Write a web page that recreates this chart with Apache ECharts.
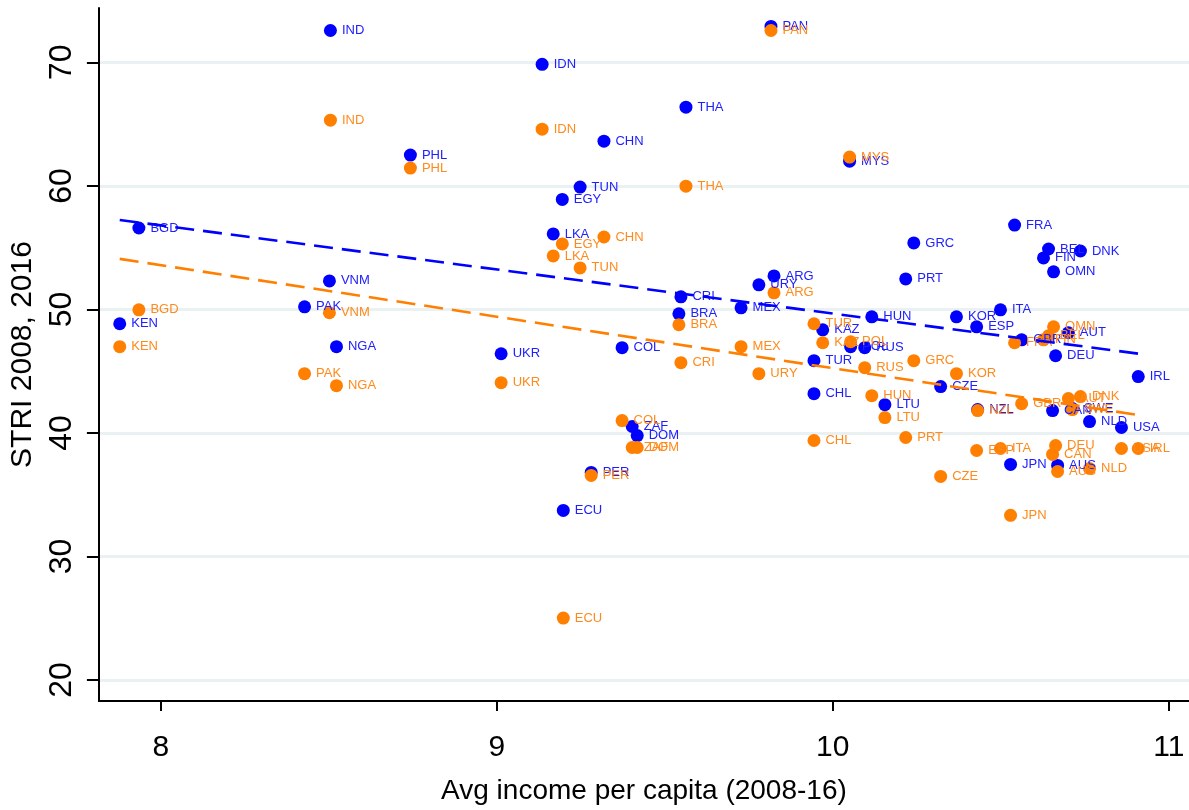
<!DOCTYPE html>
<html>
<head>
  <meta charset="utf-8">
  <title>STRI vs income</title>
  <style>
    html, body { margin: 0; padding: 0; background: #fff; }
  </style>
</head>
<body>
  <div id="main" style="width: 1189px;height:810px;"></div>
</body>
<script src="https://cdn.jsdelivr.net/npm/echarts@6/dist/echarts.min.js"></script>
<script>
let myChart = echarts.init(document.querySelector('#main'))

// country codes, avg income (x), STRI 2008 (blue) and STRI 2016 (orange)
const countries = ['KEN','BGD','PAK','IND','VNM','NGA','PHL','UKR','IDN','LKA','EGY','TUN','ECU','PER','CHN','COL','ZAF','DOM','THA','CRI','BRA','MEX','URY','ARG','PAN','TUR','CHL','KAZ','POL','MYS','RUS','HUN','LTU','PRT','GRC','CZE','KOR','ESP','NZL','ITA','JPN','FRA','GBR','FIN','BEL','OMN','CAN','DEU','AUS','AUT','SWE','DNK','NLD','USA','IRL'];
const income = [7.878,7.935,8.428,8.505,8.502,8.523,8.743,9.013,9.135,9.168,9.195,9.248,9.198,9.281,9.319,9.373,9.403,9.418,9.563,9.548,9.542,9.727,9.780,9.825,9.816,9.944,9.944,9.970,10.053,10.050,10.095,10.116,10.155,10.217,10.241,10.321,10.368,10.428,10.431,10.499,10.529,10.541,10.562,10.627,10.642,10.657,10.654,10.663,10.669,10.701,10.713,10.737,10.764,10.859,10.909];
const stri2008 = [48.84,56.59,50.21,72.58,52.31,46.98,62.49,46.41,69.84,56.11,58.90,59.90,33.73,36.80,63.62,46.90,40.52,39.79,66.37,51.02,49.64,50.13,51.99,52.71,72.91,45.85,43.18,48.35,46.98,62.00,46.90,49.40,42.29,52.47,55.38,43.75,49.40,48.59,41.89,49.97,37.45,56.83,47.54,54.17,54.89,53.04,41.81,46.25,37.37,48.11,41.97,54.73,40.92,40.44,44.56];
const stri2016 = [46.98,49.97,44.80,65.32,49.73,43.83,61.44,44.07,64.59,54.33,55.30,53.36,25.01,36.56,55.86,41.00,38.82,38.82,59.98,45.69,48.76,46.98,44.80,51.34,72.58,48.84,39.39,47.30,47.38,62.33,45.28,43.02,41.24,39.63,45.85,36.48,44.80,38.58,41.81,38.74,33.33,47.30,42.37,47.54,47.87,48.59,38.26,38.98,36.88,42.78,41.89,42.94,37.12,38.74,38.74];

// fitted lines, end points
const fitX = [7.878, 10.909];
const fit2008 = [57.24, 46.42];
const fit2016 = [54.09, 41.45];

const xTicks = [8, 9, 10, 11];
const yTicks = [20, 30, 40, 50, 60, 70];

const blue = '#0000ff';
const orange = '#ff7f00';
const font = '"Liberation Sans", Arial, sans-serif';

function points(ys) {
    return income.map((x, i) => [x, ys[i], countries[i]]);
}
function fitLine(ys) {
    return fitX.map((x, i) => [x, ys[i]]);
}

function scatter(name, ys, color, labelColor) {
    return {
        name: name,
        type: 'scatter',
        symbolSize: 13,
        itemStyle: { color: color, opacity: 1 },
        label: {
            show: true,
            position: 'right',
            distance: 5,
            formatter: p => p.data[2],
            color: labelColor,
            fontFamily: font,
            fontSize: 13
        },
        emphasis: { disabled: true },
        data: points(ys),
        z: 3
    };
}

function fit(name, ys, color) {
    return {
        name: name,
        type: 'line',
        symbol: 'none',
        lineStyle: { color: color, width: 2.6, type: [19, 9] },
        data: fitLine(ys),
        z: 5
    };
}

let option = {
    animation: false,
    grid: { left: 97, right: 0, top: 8, bottom: 108 },
    xAxis: {
        type: 'value',
        min: 7.816,
        max: 11.06,
        name: 'Avg income per capita (2008-16)',
        nameLocation: 'middle',
        nameGap: 76,
        nameTextStyle: { fontFamily: font, fontSize: 28, color: '#000' },
        axisLine: { lineStyle: { color: '#000', width: 2 } },
        axisTick: { show: true, length: 10, lineStyle: { color: '#000', width: 2 }, customValues: xTicks },
        axisLabel: { customValues: xTicks, margin: 32, fontFamily: font, fontSize: 30, color: '#000' },
        splitLine: { show: false }
    },
    yAxis: {
        type: 'value',
        min: 18.3,
        max: 74.4,
        name: 'STRI 2008, 2016',
        nameLocation: 'middle',
        nameGap: 56,
        nameTextStyle: { fontFamily: font, fontSize: 30, color: '#000' },
        axisLine: { show: true, lineStyle: { color: '#000', width: 2 } },
        axisTick: { show: true, length: 12, lineStyle: { color: '#000', width: 2 }, customValues: yTicks },
        axisLabel: { customValues: yTicks, rotate: 90, margin: 21, fontFamily: font, fontSize: 32, color: '#000' },
        splitLine: { show: false }
    },
    series: [
        {
            // horizontal grid lines
            type: 'line',
            data: [],
            silent: true,
            z: 0,
            markLine: {
                symbol: 'none',
                silent: true,
                z: 0,
                label: { show: false },
                lineStyle: { color: '#e9f1f2', width: 3, type: 'solid' },
                data: yTicks.map(v => ({ yAxis: v }))
            }
        },
        scatter('STRI 2008', stri2008, blue, '#2020ff'),
        scatter('STRI 2016', stri2016, orange, '#ff8a1c'),
        fit('Fit 2008', fit2008, blue),
        fit('Fit 2016', fit2016, orange)
    ]
};
myChart.setOption(option);
</script>
</html>
